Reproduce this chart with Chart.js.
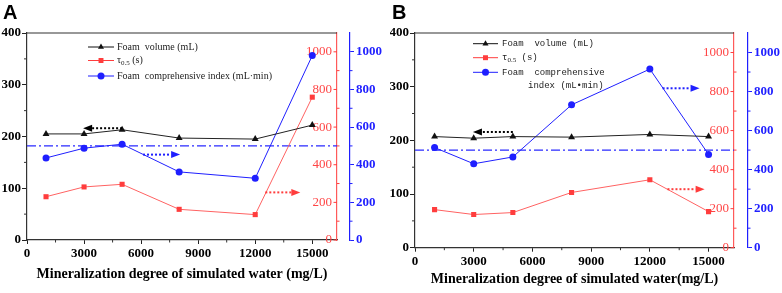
<!DOCTYPE html>
<html lang="en">
<head>
<meta charset="utf-8" />
<title>Foam properties vs mineralization degree</title>
<script src="https://cdn.jsdelivr.net/npm/chart.js@4.4.1/dist/chart.umd.min.js"></script>
<style>
  html, body { margin: 0; padding: 0; background: #fff; }
  .panel { position: absolute; top: 0; height: 293px; }
  #panelA { left: 0; width: 390px; }
  #panelB { left: 390px; width: 392px; }
</style>
</head>
<body>
<div class="panel" id="panelA"><canvas id="chartA"></canvas></div>
<div class="panel" id="panelB"><canvas id="chartB"></canvas></div>
<script>
// mineralization degree of simulated water, mg/L
const mineralization = [1000, 3000, 5000, 8000, 12000, 15000]

// panel A
const volumeA = [205, 205, 213, 197, 195, 222]
const tauA = [230, 282, 296, 163, 135, 759]
const indexA = [436, 488, 509, 362, 328, 980]

// panel B
const volumeB = [207, 204, 207, 206, 211, 207]
const tauB = [195, 170, 180, 283, 348, 185]
const indexB = [513, 430, 465, 732, 915, 478]

const indexRef = 500
const xTicks = [0, 3000, 6000, 9000, 12000, 15000]
const leftTicks = [0, 100, 200, 300, 400]
const rightTicks = [0, 200, 400, 600, 800, 1000]

const RED = '#ff3d3d'
const BLUE = '#1f1fff'
const SERIF = '"Liberation Serif", "Times New Roman", serif'

const midpoints = (t) => t.slice(1).map((v, i) => (v + t[i]) / 2)
const plain = (v) => String(v)

const panels = [
  {
    canvas: 'chartA', letter: 'A', w: 390,
    area: { left: 27, top: 33, right: 337, bottom: 240 }, blueX: 350,
    titlePad: 10,
    title: 'Mineralization degree of simulated water (mg/L)',
    volume: volumeA, tau: tauA, index: indexA,
    arrows: [
      { from: 5000, to: 2950, y: 216, color: '#000' },
      { from: 6100, to: 8050, y: 165, color: BLUE },
      { from: 12530, to: 14370, y: 92, color: RED },
    ],
    legend: {
      font: '10px ' + SERIF, line: [88, 114], textX: 117,
      rows: [
        { y: 47, color: '#111', style: 'triangle', text: 'Foam  volume (mL)' },
        { y: 60.5, color: RED, style: 'rect', tau: true, text: ' (s)' },
        { y: 76, color: BLUE, style: 'circle', text: 'Foam  comprehensive index (mL\u00b7min)' },
      ],
    },
  },
  {
    canvas: 'chartB', letter: 'B', w: 392,
    area: { left: 25, top: 33, right: 344, bottom: 247.7 }, blueX: 358,
    titlePad: 5,
    title: 'Mineralization degree of simulated water(mg/L)',
    volume: volumeB, tau: tauB, index: indexB,
    arrows: [
      { from: 5000, to: 2960, y: 215.6, color: '#000' },
      { from: 12650, to: 14540, y: 297, color: BLUE },
      { from: 12900, to: 14800, y: 109, color: RED },
    ],
    legend: {
      font: '9px "Liberation Mono", "DejaVu Sans Mono", monospace', line: [83, 108], textX: 112,
      rows: [
        { y: 43.7, color: '#111', style: 'triangle', text: 'Foam  volume (mL)' },
        { y: 57.7, color: RED, style: 'rect', tau: true, text: ' (s)' },
        { y: 72.3, color: BLUE, style: 'circle', text: 'Foam  comprehensive' },
        { y: 85.7, x: 138, text: 'index (mL\u2022min)' },
      ],
    },
  },
]

function seg(ctx, x1, y1, x2, y2) {
  ctx.beginPath()
  ctx.moveTo(x1, y1)
  ctx.lineTo(x2, y2)
  ctx.stroke()
}

function drawArrow(ctx, x1, x2, y, color) {
  const dir = Math.sign(x2 - x1)
  const head = 9
  ctx.strokeStyle = color
  ctx.fillStyle = color
  ctx.lineWidth = 2
  ctx.setLineDash([2, 2])
  seg(ctx, x1, y, x2 - dir * head, y)
  ctx.setLineDash([])
  ctx.beginPath()
  ctx.moveTo(x2, y)
  ctx.lineTo(x2 - dir * head, y - 3.5)
  ctx.lineTo(x2 - dir * head, y + 3.5)
  ctx.closePath()
  ctx.fill()
}

function makeDecorations(p) {
  return {
    id: 'decorations',
    afterDatasetsDraw(chart) {
      const { ctx, chartArea: a, scales } = chart
      const { x, y, yRed, yBlue } = scales
      ctx.save()

      // top frame
      ctx.strokeStyle = '#333'
      ctx.lineWidth = 1.2
      seg(ctx, a.left, a.top, a.right, a.top)

      // minor ticks
      ctx.lineWidth = 1
      midpoints(xTicks).forEach(v => {
        const px = x.getPixelForValue(v)
        seg(ctx, px, a.bottom, px, a.bottom + 2.5)
      })
      midpoints(leftTicks).forEach(v => {
        const py = y.getPixelForValue(v)
        seg(ctx, a.left - 3, py, a.left, py)
      })
      ctx.strokeStyle = RED
      rightTicks.forEach(v => {
        const py = yRed.getPixelForValue(v)
        seg(ctx, a.right - 3.5, py, a.right, py)
      })
      midpoints(rightTicks).forEach(v => {
        const py = yRed.getPixelForValue(v)
        seg(ctx, a.right, py, a.right + 2.5, py)
      })
      ctx.strokeStyle = BLUE
      midpoints(rightTicks).forEach(v => {
        const py = yBlue.getPixelForValue(v)
        seg(ctx, yBlue.left, py, yBlue.left + 2.5, py)
      })

      // dotted arrows pointing at each series' axis
      p.arrows.forEach(ar => {
        drawArrow(ctx, x.getPixelForValue(ar.from), x.getPixelForValue(ar.to), y.getPixelForValue(ar.y), ar.color)
      })

      // legend
      const lg = p.legend
      ctx.textBaseline = 'middle'
      ctx.textAlign = 'left'
      lg.rows.forEach(r => {
        ctx.font = lg.font
        ctx.fillStyle = '#222'
        if (!r.style) {
          ctx.fillText(r.text, r.x, r.y)
          return
        }
        ctx.strokeStyle = r.color
        ctx.lineWidth = 1
        seg(ctx, lg.line[0], r.y, lg.line[1], r.y)
        ctx.fillStyle = r.color
        Chart.helpers.drawPoint(ctx, { pointStyle: r.style, radius: 3.5, borderWidth: 0 },
          (lg.line[0] + lg.line[1]) / 2, r.y)
        ctx.fillStyle = '#222'
        let tx = lg.textX
        if (r.tau) {
          ctx.fillText('\u03c4', tx, r.y)
          tx += ctx.measureText('\u03c4').width
          ctx.font = '7px ' + SERIF
          ctx.fillText('0.5', tx, r.y + 2.5)
          tx += ctx.measureText('0.5').width
          ctx.font = lg.font
        }
        ctx.fillText(r.text, tx, r.y)
      })

      // panel letter
      ctx.font = 'bold 20px "Liberation Sans", Arial, sans-serif'
      ctx.fillStyle = '#000'
      ctx.textBaseline = 'alphabetic'
      ctx.fillText(p.letter, p.letter === 'A' ? 3 : 2, 18.5)
      ctx.restore()
    },
  }
}

function buildPanel(p) {
  const pts = (vals) => mineralization.map((m, i) => ({ x: m, y: vals[i] }))
  const setTicks = (list) => (scale) => { scale.ticks = list.map(v => ({ value: v })) }
  const H = 293

  return new Chart(document.getElementById(p.canvas), {
    type: 'line',
    data: {
      datasets: [
        {
          label: 'Foam volume (mL)', data: pts(p.volume), yAxisID: 'y',
          borderColor: '#222', backgroundColor: '#111', borderWidth: 1,
          pointStyle: 'triangle', pointRadius: 4, pointBorderWidth: 0,
        },
        {
          label: 'tau0.5 (s)', data: pts(p.tau), yAxisID: 'yRed',
          borderColor: '#ff6262', backgroundColor: RED, borderWidth: 1,
          pointStyle: 'rect', pointRadius: 3.6, pointBorderWidth: 0,
        },
        {
          label: 'Foam comprehensive index (mL min)', data: pts(p.index), yAxisID: 'yBlue',
          borderColor: BLUE, backgroundColor: BLUE, borderWidth: 1,
          pointStyle: 'circle', pointRadius: 3.5, pointBorderWidth: 0,
        },
        {
          label: 'reference', data: [{ x: 0, y: indexRef }, { x: 16300, y: indexRef }], yAxisID: 'yBlue',
          borderColor: '#2a2aff', borderWidth: 1.2, borderDash: [9, 3, 2, 3], pointRadius: 0,
        },
      ],
    },
    options: {
      responsive: true,
      maintainAspectRatio: false,
      animation: false,
      layout: { padding: { top: p.area.top, left: 0, right: 0, bottom: 0 } },
      plugins: { legend: { display: false }, tooltip: { enabled: false } },
      scales: {
        x: {
          type: 'linear', min: 0, max: 16300,
          afterBuildTicks: setTicks(xTicks),
          afterFit: (s) => { s.height = H - p.area.bottom },
          grid: { drawOnChartArea: false, tickLength: 4, color: '#222' },
          border: { color: '#333', width: 1.2 },
          ticks: { padding: 2, color: '#000', callback: plain, font: { family: SERIF, size: 13, weight: 'bold' } },
          title: {
            display: true, text: p.title, color: '#000',
            font: { family: SERIF, size: 14, weight: 'bold' },
            padding: { top: 0, bottom: p.titlePad },
          },
        },
        y: {
          position: 'left', min: 0, max: 400,
          afterBuildTicks: setTicks(leftTicks),
          afterFit: (s) => { s.width = p.area.left },
          grid: { drawOnChartArea: false, tickLength: 5, color: '#222' },
          border: { color: '#333', width: 1.2 },
          ticks: { padding: 1, color: '#000', callback: plain, font: { family: SERIF, size: 13, weight: 'bold' } },
        },
        yRed: {
          position: 'right', weight: 0, min: 0, max: 1100,
          afterBuildTicks: setTicks(rightTicks),
          afterFit: (s) => { s.width = p.blueX - p.area.right },
          grid: { drawOnChartArea: false, drawTicks: false },
          border: { color: '#ff5a5a', width: 1.2 },
          ticks: { mirror: true, padding: -5, color: '#ff4545', callback: plain, font: { family: SERIF, size: 13 } },
        },
        yBlue: {
          position: 'right', weight: 1, min: 0, max: 1100,
          afterBuildTicks: setTicks(rightTicks),
          afterFit: (s) => { s.width = p.w - p.blueX },
          grid: { drawOnChartArea: false, tickLength: 4, color: BLUE },
          border: { color: BLUE, width: 1.2 },
          ticks: { padding: 2, color: BLUE, callback: plain, font: { family: SERIF, size: 13, weight: 'bold' } },
        },
      },
    },
    plugins: [makeDecorations(p)],
  })
}

panels.forEach(buildPanel)
</script>
</body>
</html>
